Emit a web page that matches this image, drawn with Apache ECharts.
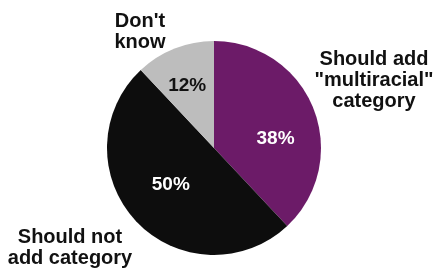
<!DOCTYPE html>
<html>
<head>
<meta charset="utf-8">
<script src="https://cdn.jsdelivr.net/npm/echarts@6/dist/echarts.min.js"></script>
<style>
html,body{margin:0;padding:0;background:#fff;}
#chart{width:434px;height:268px;}
</style>
</head>
<body>
<div id="chart"></div>
<script>
const categories = ['Should add\n"multiracial"\ncategory', 'Should not\nadd category', "Don't\nknow"];
const values = [38, 50, 12];
const colors = ['#6c1b68', '#0d0d0d', '#bdbdbd'];
const pctColors = ['#ffffff', '#ffffff', '#111111'];

// label adjustments (presentation only)
const pctShift = [[9, 12], [-2, -2], [-6, -10]];
const namePos = [[374, 80], [70, 248], [140, 32]];

const chart = echarts.init(document.getElementById('chart'), null, {renderer: 'canvas'});
const font = '"Liberation Sans", Arial, Helvetica, sans-serif';

chart.setOption({
  backgroundColor: '#ffffff',
  animation: false,
  series: [{
    type: 'pie',
    center: [214, 148],
    radius: 107,
    startAngle: 90,
    clockwise: true,
    silent: true,
    data: values.map((v, i) => ({
      value: v,
      name: categories[i],
      itemStyle: {color: colors[i]},
      label: {color: pctColors[i]}
    })),
    label: {
      show: true,
      position: 'inside',
      formatter: p => p.value + '%',
      fontFamily: font,
      fontWeight: 'bold',
      fontSize: 19
    },
    labelLine: {show: false},
    labelLayout: p => ({dx: pctShift[p.dataIndex][0], dy: pctShift[p.dataIndex][1]})
  }],
  graphic: categories.map((c, i) => ({
    type: 'text',
    x: namePos[i][0],
    y: namePos[i][1],
    style: {
      text: c,
      fill: '#111',
      font: 'bold 20px ' + font,
      align: 'center',
      verticalAlign: 'middle',
      lineHeight: 21
    }
  }))
});
</script>
</body>
</html>
